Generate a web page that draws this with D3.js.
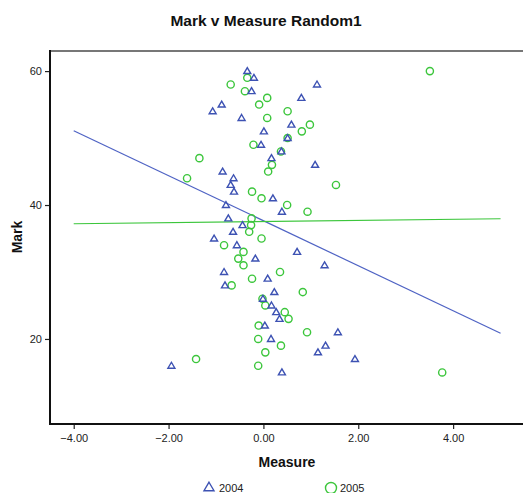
<!DOCTYPE html>
<html>
<head>
<meta charset="utf-8">
<script src="https://cdn.jsdelivr.net/npm/d3@7"></script>
<style>
  html, body { margin: 0; padding: 0; background: #fff; }
  svg { display: block; font-family: Arial, "Liberation Sans", sans-serif; }
</style>
</head>
<body>
<svg id="chart" width="523" height="493"></svg>
<script>
// Mark values (one student per mark, per year)
const marks2004 = [60,59,58,57,56,55,54,53,52,51,50,49,48,47,46,45,44,43,42,41,40,39,38,37,36,35,34,33,32,31,30,29,28,27,26,25,24,23,22,21,20,19,18,17,16,15];
const measure2004 = [-0.34,-0.20,1.13,-0.25,0.80,-0.88,-1.07,-0.46,0.59,0.01,0.51,-0.05,0.38,0.17,1.09,-0.86,-0.63,-0.69,-0.62,0.20,-0.79,0.39,-0.74,-0.44,-0.64,-1.04,-0.56,0.71,-0.17,1.29,-0.83,0.09,-0.81,0.23,-0.01,0.17,0.27,0.34,0.03,1.57,0.16,1.31,1.15,1.93,-1.94,0.39];

const marks2005 = [60,59,58,57,56,55,54,53,52,51,50,49,48,47,46,45,44,43,42,41,40,39,38,37,36,35,34,33,32,31,30,29,28,27,26,25,24,23,22,21,20,19,18,17,16,15];
const measure2005 = [3.51,-0.34,-0.69,-0.39,0.08,-0.09,0.51,0.08,0.98,0.81,0.51,-0.21,0.37,-1.35,0.18,0.10,-1.61,1.53,-0.24,-0.04,0.50,0.93,-0.25,-0.26,-0.30,-0.04,-0.83,-0.42,-0.53,-0.42,0.35,-0.24,-0.67,0.83,-0.02,0.04,0.45,0.53,-0.10,0.92,-0.11,0.37,0.04,-1.42,-0.11,3.77];

// Linear fit lines, evaluated at the ends of the fitted range
const fitMeasure = [-4, 5];
const fit2004 = [51.1, 20.85];
const fit2005 = [37.2, 37.95];

const xTicks = [-4, -2, 0, 2, 4];
const yTicks = [20, 40, 60];
const years = ["2004", "2005"];

const blue = "#3d52b3";
const blueLine = "#4f63c4";
const green = "#3cc63c";

const svg = d3.select("#chart");
const plotLeft = 50, plotTop = 51, plotBottom = 424, plotRight = 529;

const x = d3.scaleLinear().domain([-4.5, 5.6]).range([plotLeft, plotRight]);
const y = d3.scaleLinear().domain([7.3, 63.0]).range([plotBottom, plotTop]);

// Title
svg.append("text")
  .attr("x", 266).attr("y", 26)
  .attr("text-anchor", "middle")
  .attr("font-size", 15.5).attr("font-weight", "bold")
  .attr("fill", "#111")
  .text("Mark v Measure Random1");

// Plot frame: top border in grey, axes in black
svg.append("line")
  .attr("x1", plotLeft).attr("x2", 523).attr("y1", plotTop).attr("y2", plotTop)
  .attr("stroke", "#777").attr("stroke-width", 2);

const xAxis = svg.append("g")
  .attr("transform", `translate(0,${plotBottom})`)
  .call(d3.axisBottom(x).tickValues(xTicks).tickFormat(d3.format(".2f")).tickSize(5).tickPadding(5));
const yAxis = svg.append("g")
  .attr("transform", `translate(${plotLeft},0)`)
  .call(d3.axisLeft(y).tickValues(yTicks).tickSize(5).tickPadding(3));

[xAxis, yAxis].forEach(g => {
  g.select(".domain").remove();
  g.selectAll(".tick line").attr("stroke", "#222").attr("stroke-width", 1.2);
  g.selectAll(".tick text").attr("fill", "#222").attr("font-size", 11)
    .attr("font-family", "Arial, 'Liberation Sans', sans-serif");
});

svg.append("line")
  .attr("x1", plotLeft).attr("x2", plotLeft).attr("y1", plotTop - 1).attr("y2", plotBottom)
  .attr("stroke", "#111").attr("stroke-width", 2);
svg.append("line")
  .attr("x1", plotLeft - 1).attr("x2", 523).attr("y1", plotBottom).attr("y2", plotBottom)
  .attr("stroke", "#111").attr("stroke-width", 2);

// Axis titles
svg.append("text")
  .attr("x", 287).attr("y", 467)
  .attr("text-anchor", "middle")
  .attr("font-size", 14).attr("font-weight", "bold").attr("fill", "#111")
  .text("Measure");
svg.append("text")
  .attr("transform", "translate(22,237) rotate(-90)")
  .attr("text-anchor", "middle")
  .attr("font-size", 14).attr("font-weight", "bold").attr("fill", "#111")
  .text("Mark");

// Fit lines
const line = d3.line().x(d => x(d[0])).y(d => y(d[1]));
svg.append("path")
  .datum(d3.zip(fitMeasure, fit2004))
  .attr("d", line).attr("fill", "none")
  .attr("stroke", blueLine).attr("stroke-width", 1.2);
svg.append("path")
  .datum(d3.zip(fitMeasure, fit2005))
  .attr("d", line).attr("fill", "none")
  .attr("stroke", green).attr("stroke-width", 1.2);

// Triangle marker path centred on (0,0)
function triangle(s) {
  const h = s * 0.85;
  return `M0,${-h / 2 - 0.5}L${s / 2},${h / 2 - 0.5}L${-s / 2},${h / 2 - 0.5}Z`;
}

// 2005 circles
svg.append("g").selectAll("circle")
  .data(d3.zip(measure2005, marks2005))
  .join("circle")
  .attr("cx", d => x(d[0])).attr("cy", d => y(d[1]))
  .attr("r", 3.6)
  .attr("fill", "none").attr("stroke", green).attr("stroke-width", 1.4);

// 2004 triangles
svg.append("g").selectAll("path")
  .data(d3.zip(measure2004, marks2004))
  .join("path")
  .attr("transform", d => `translate(${x(d[0])},${y(d[1])})`)
  .attr("d", triangle(7))
  .attr("fill", "none").attr("stroke", blue).attr("stroke-width", 1.4)
  .attr("stroke-linejoin", "miter");

// Legend
const legend = svg.append("g");
legend.append("path")
  .attr("transform", "translate(209,487)")
  .attr("d", triangle(10))
  .attr("fill", "none").attr("stroke", blue).attr("stroke-width", 1.4);
legend.append("text")
  .attr("x", 219).attr("y", 492)
  .attr("font-size", 11).attr("fill", "#222")
  .text(years[0]);
legend.append("circle")
  .attr("cx", 331).attr("cy", 488).attr("r", 5.5)
  .attr("fill", "none").attr("stroke", green).attr("stroke-width", 1.4);
legend.append("text")
  .attr("x", 340).attr("y", 492)
  .attr("font-size", 11).attr("fill", "#222")
  .text(years[1]);
</script>
</body>
</html>
